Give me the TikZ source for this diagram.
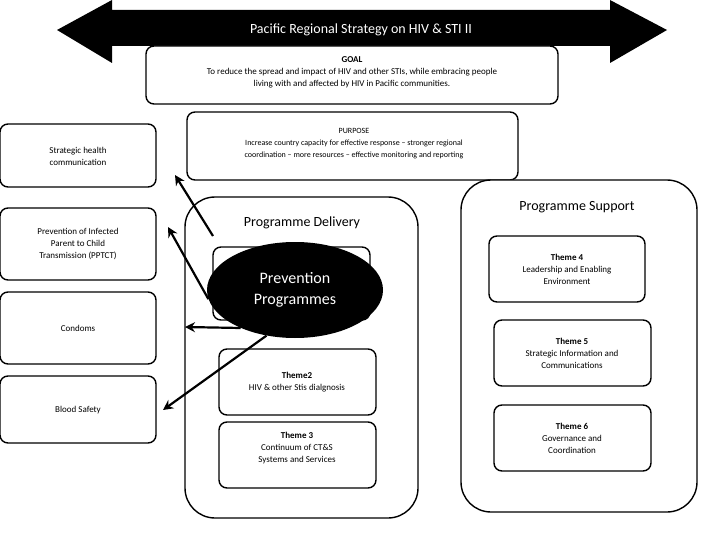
\documentclass[tikz,border=0pt]{standalone}
\usepackage{fontspec}
\setmainfont{Carlito}
\usetikzlibrary{arrows.meta,shapes.geometric}
\begin{document}
\begin{tikzpicture}[x=1pt,y=-1pt,
  box/.style={draw,line width=1.4pt,rounded corners=8pt,fill=white},
  txt/.style={align=center,font=\fontsize{9}{12}\selectfont},
  arr/.style={line width=2.2pt,-{Stealth[length=10pt,width=10pt]}}]
\useasboundingbox (0,0) rectangle (720,540);
% big double arrow
\fill (112,10) -- (112,0) -- (57,30) -- (112,63) -- (112,46) -- (610,46) -- (610,63) -- (667,30) -- (610,0) -- (610,10) -- cycle;
\node[text=white,font=\fontsize{14}{16}\selectfont] (title) at (361,30) {Pacific Regional Strategy on HIV \& STI II};
% goal
\draw[box] (146,46) rectangle (558,104);
\node[txt] (goal) at (352,72) {\textbf{GOAL}\\To reduce the spread and impact of HIV and other STIs, while embracing people\\living with and affected by HIV in Pacific communities.};
% purpose
\draw[box] (187,112) rectangle (518,180);
\node[txt,font=\fontsize{8}{12}\selectfont] (purpose) at (354,144) {PURPOSE\\Increase country capacity for effective response -- stronger regional\\coordination -- more resources -- effective monitoring and reporting};
% left boxes
\draw[box] (0,124) rectangle (156,187);
\node[txt] (l1) at (78,156) {Strategic health\\communication};
\draw[box] (0,208) rectangle (156,280);
\node[txt] (l2) at (78,244) {Prevention of Infected\\Parent to Child\\Transmission (PPTCT)};
\draw[box] (0,292) rectangle (156,364);
\node[txt] (l3) at (78,328) {Condoms};
\draw[box] (0,376) rectangle (156,443);
\node[txt] (l4) at (78,410) {Blood Safety};
% programme delivery
\draw[box,rounded corners=30pt] (185,197) rectangle (418,518);
\node[font=\fontsize{14}{16}\selectfont] (pd) at (302,223) {Programme Delivery};
\draw[box] (213,247) rectangle (370,320);
\node[ellipse,fill=black,minimum width=176pt,minimum height=96pt,text=white,align=center,font=\fontsize{16}{21}\selectfont] (prev) at (295,290) {Prevention\\Programmes};
\draw[box] (219,349) rectangle (376,415);
\node[txt] (t2) at (297,382) {\textbf{Theme2}\\HIV \& other Stis dialgnosis};
\draw[box] (219,422) rectangle (376,488);
\node[txt] (t3) at (297,448) {\textbf{Theme 3}\\Continuum of CT\&S\\Systems and Services};
% programme support
\draw[box,rounded corners=30pt] (461,180) rectangle (697,512);
\node[font=\fontsize{14}{16}\selectfont] (ps) at (577,207) {Programme Support};
\draw[box] (489,236) rectangle (645,302);
\node[txt] (t4) at (567,269) {\textbf{Theme 4}\\Leadership and Enabling\\Environment};
\draw[box] (494,320) rectangle (651,386);
\node[txt] (t5) at (572,353) {\textbf{Theme 5}\\Strategic Information and\\Communications};
\draw[box] (494,405) rectangle (651,471);
\node[txt] (t6) at (572,438) {\textbf{Theme 6}\\Governance and\\Coordination};
% arrows
\coordinate (a1) at (175,175);
\coordinate (a2) at (168,227);
\coordinate (a3) at (185,327);
\coordinate (a4) at (163,410);
\coordinate (s1) at (213,236);
\draw[arr] (s1) -- (a1);
\draw[arr] (prev.186) -- (a2);
\draw[arr] (prev.215) -- (a3);
\draw[arr] (prev.238) -- (a4);
\end{tikzpicture}
\end{document}
